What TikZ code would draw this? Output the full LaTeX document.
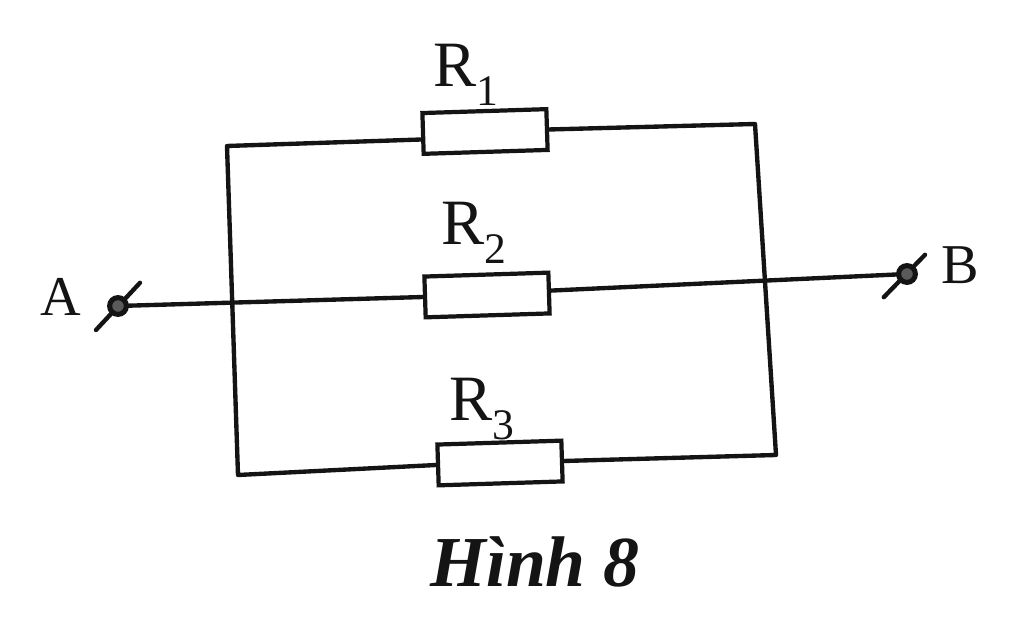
\documentclass[tikz,border=0pt]{standalone}
\usepackage{fontspec}
\setmainfont{Liberation Serif}
\usepackage{tikz}
\usetikzlibrary{calc}
\definecolor{ink}{HTML}{141414}
\newcommand{\sub}[1]{\raisebox{-0.3em}{\fontsize{31}{31}\selectfont #1}}
\tikzset{
  wire/.style={draw=ink, line width=3.1pt, line cap=round, line join=round},
  res/.style={draw=ink, line width=3pt, fill=white, minimum width=3.1cm, minimum height=1.02cm, inner sep=0pt, rotate=1.8},
  term/.style={circle, draw=ink, fill=ink!70, line width=3.6pt, minimum size=0.42cm, inner sep=0pt},
  lab/.style={text=ink, font=\fontsize{46}{50}\selectfont},
  labt/.style={text=ink, font=\fontsize{40}{44}\selectfont},
  captext/.style={text=ink, font=\fontsize{51}{55}\selectfont\bfseries\itshape},
}

\begin{document}
\begin{tikzpicture}
  \useasboundingbox (0,0) rectangle (25.6,15.475);
  \coordinate (TL) at (5.675,11.825);
  \coordinate (TR) at (18.875,12.375);
  \coordinate (BR) at (19.4,4.1);
  \coordinate (BL) at (5.95,3.6);
  % the three resistors
  \node[res] (r1) at (12.125,12.1875) {};
  \node[res] (r2) at (12.175,8.1) {};
  \node[res] (r3) at (12.5,3.9) {};
  % wires
  \draw[wire] ($(r1.west)+(0,-0.15)$) -- (TL) -- (BL) -- (r3.west);
  \draw[wire] (r1.east) -- (TR) -- (BR) -- (r3.east);
  \coordinate (a) at (2.95,7.825);
  \coordinate (b) at (22.675,8.625);
  \draw[wire] (a) -- (r2.west);
  \draw[wire] ($(r2.east)+(0,0.06)$) -- (b);
  % slashes on the terminals
  \draw[wire] ($(a)+(-0.55,-0.6)$) -- ($(a)+(0.55,0.58)$);
  \draw[wire] ($(b)+(-0.58,-0.58)$) -- ($(b)+(0.45,0.48)$);
  \node[term] at (a) {};
  \node[term] at (b) {};
  \node[labt] (la) at (1.525,8.05) {A};
  \node[labt] (lb) at (24.0,8.85) {B};
  \node[lab] (l1) at (11.65,13.6) {R\sub{1}};
  \node[lab] (l2) at (11.85,9.65) {R\sub{2}};
  \node[lab] (l3) at (12.05,5.25) {R\sub{3}};
  \node[captext] (title) at (13.375,1.425) {Hình 8};
\end{tikzpicture}
\end{document}
